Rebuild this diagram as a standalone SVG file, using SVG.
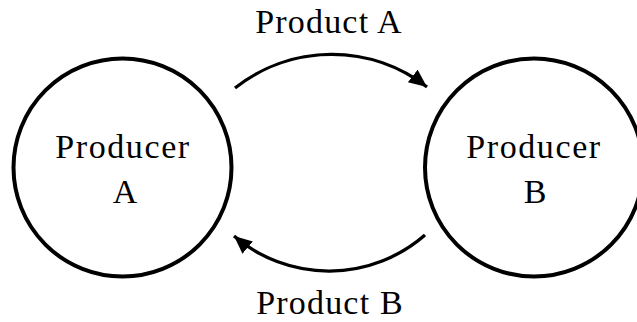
<svg xmlns="http://www.w3.org/2000/svg" width="637" height="322" viewBox="0 0 637 322">
<style>
.node{fill:#fff;stroke:#000;stroke-width:4}
.lbl{font-family:"Liberation Serif","DejaVu Serif",serif;font-size:34px;fill:#000;text-anchor:middle}
.edge{fill:none;stroke:#000;stroke-width:3.3}
</style>
<defs>
<marker id="ah" markerUnits="userSpaceOnUse" markerWidth="20" markerHeight="18" refX="18" refY="8" orient="auto">
<path d="M0,0 L18,8 L0,16 z" fill="#000"/>
</marker>
</defs>
<rect width="637" height="322" fill="#fff"/>
<g id="producerA">
<circle class="node" cx="122.5" cy="167.5" r="109"/>
<text class="lbl" x="123" y="158" letter-spacing="1.6">Producer</text>
<text class="lbl" x="125" y="203">A</text>
</g>
<g id="producerB">
<circle class="node" cx="534" cy="167.5" r="109"/>
<text class="lbl" x="534" y="158" letter-spacing="1.6">Producer</text>
<text class="lbl" x="535" y="203">B</text>
</g>
<g id="connectors">
<path class="edge" d="M235,88 A156,156 0 0 1 427,87" marker-end="url(#ah)"/>
<text class="lbl" x="329" y="33" letter-spacing="1.2">Product A</text>
<path class="edge" d="M425,235 A146,146 0 0 1 234,236" marker-end="url(#ah)"/>
<text class="lbl" x="330" y="314" letter-spacing="1.2">Product B</text>
</g>
</svg>
